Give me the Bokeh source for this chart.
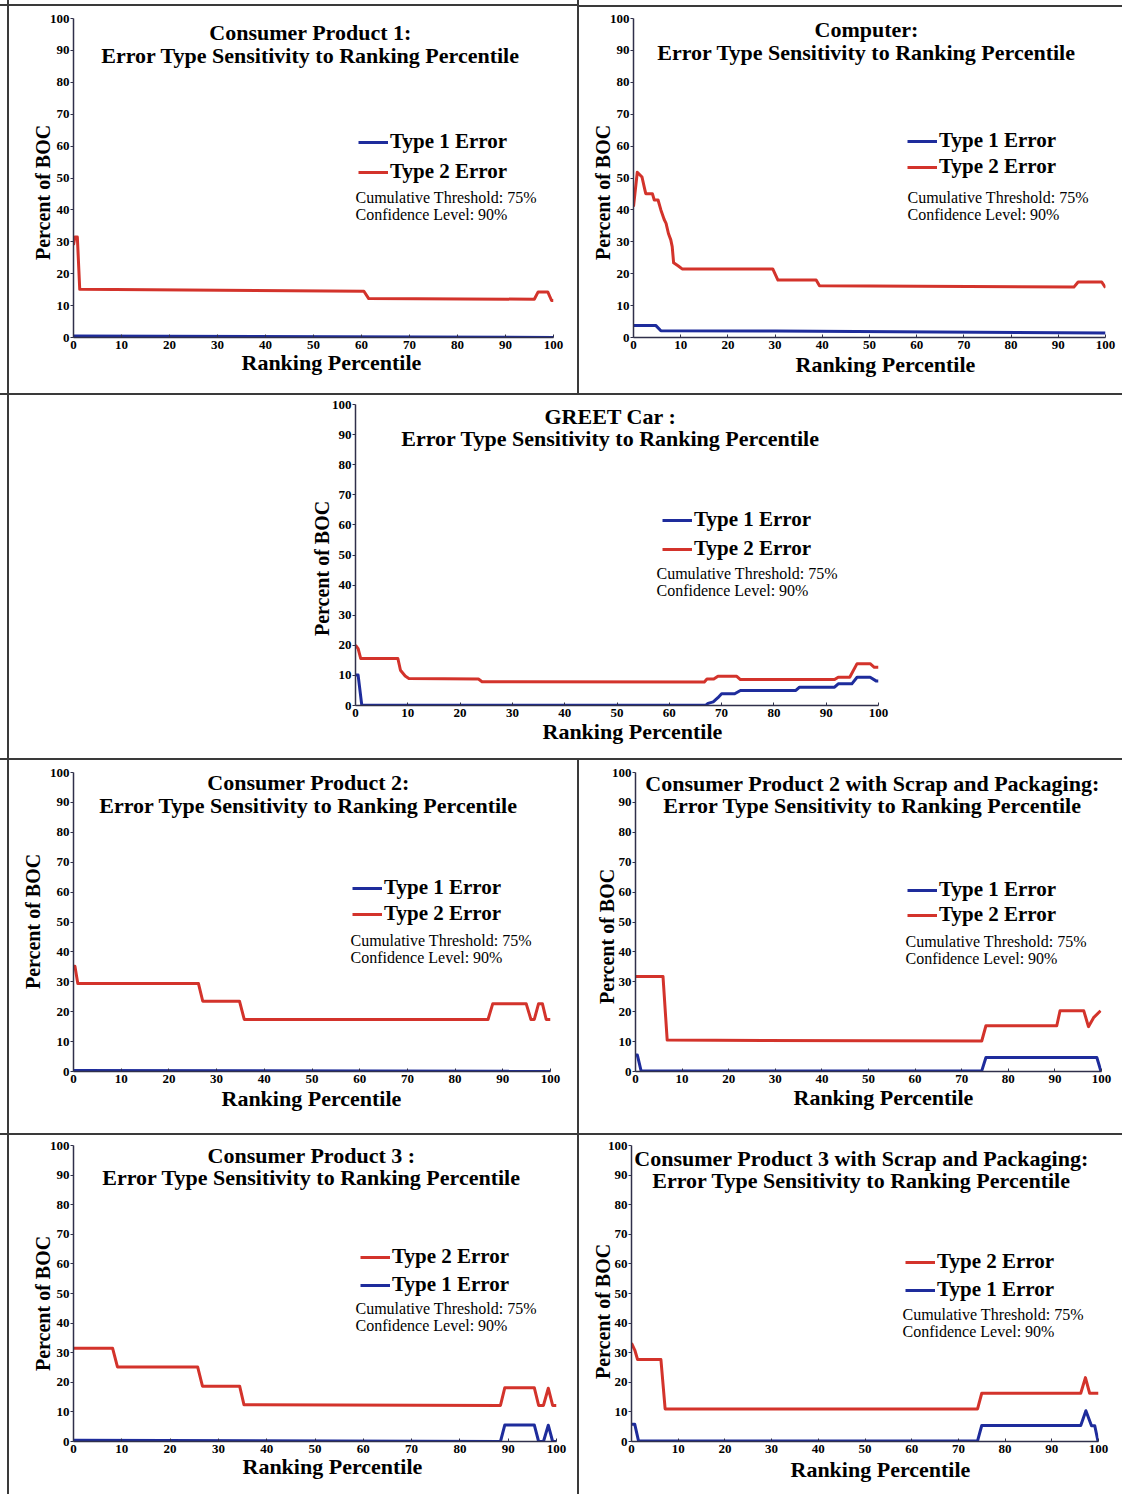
from bokeh.plotting import figure
from bokeh.models import Range1d, FixedTicker, Label, Legend, LegendItem, Title
from bokeh.layouts import column, row
from bokeh.embed import file_html
from bokeh.resources import INLINE

# ---------------- data ----------------
x_ticks = [0, 10, 20, 30, 40, 50, 60, 70, 80, 90, 100]
y_ticks = [0, 10, 20, 30, 40, 50, 60, 70, 80, 90, 100]

# Consumer Product 1
cp1_t1_x = [0, 100]
cp1_t1_y = [0.5, 0.0]
cp1_t2_x = [0, 0.3, 0.8, 1.3, 60.5, 61.5, 96.0, 96.8, 98.8, 99.6, 100]
cp1_t2_y = [29.0, 31.5, 31.5, 15.1, 14.5, 12.2, 12.0, 14.3, 14.3, 11.6, 11.6]

# Computer
comp_t1_x = [0, 4.7, 5.8, 30, 100]
comp_t1_y = [3.8, 3.8, 2.1, 2.0, 1.4]
comp_t2_x = [0, 0.8, 1.8, 2.3, 2.6, 4.0, 4.4, 5.2, 5.8, 6.5, 6.9, 7.4, 7.9, 8.2, 8.5,
             9.5, 10.3, 29.5, 30.6, 38.7, 39.4, 93.3, 94.2, 99.2, 100]
comp_t2_y = [41.0, 51.8, 50.3, 47.0, 45.1, 45.1, 43.1, 43.1, 40.0, 37.0, 35.8, 32.6, 30.6, 28.5, 23.4,
             22.4, 21.5, 21.5, 18.0, 18.0, 16.2, 15.8, 17.4, 17.4, 15.6]

# GREET Car
greet_t1_x = [0, 0.5, 1.2, 67.0, 67.4, 68.4, 69.3, 70.0, 72.5, 73.6, 84.2, 84.9, 91.6, 92.3,
              94.9, 95.9, 98.4, 99.6, 100]
greet_t1_y = [10.1, 10.1, 0.1, 0.1, 0.7, 1.2, 2.6, 3.9, 3.9, 5.0, 5.0, 6.1, 6.1, 7.2,
              7.2, 9.4, 9.4, 8.1, 8.1]
greet_t2_x = [0, 0.5, 1.0, 8.1, 8.6, 9.5, 10.2, 23.5, 24.2, 66.7, 67.2, 68.5, 69.3, 72.9,
              73.6, 91.6, 92.3, 94.5, 95.9, 98.4, 99.2, 100]
greet_t2_y = [20.0, 18.9, 15.6, 15.6, 11.7, 9.8, 9.0, 8.8, 7.9, 7.8, 8.8, 8.8, 9.7, 9.7,
              8.6, 8.6, 9.4, 9.4, 13.9, 13.9, 12.7, 12.7]

# Consumer Product 2
cp2_t1_x = [0, 100]
cp2_t1_y = [0.3, 0.1]
cp2_t2_x = [0, 0.3, 0.9, 26.2, 27.1, 34.8, 35.8, 86.9, 87.9, 94.9, 95.9, 96.6, 97.5, 98.3, 99.1, 100]
cp2_t2_y = [35.2, 35.2, 29.4, 29.4, 23.5, 23.5, 17.4, 17.4, 22.7, 22.7, 17.4, 17.4, 22.7, 22.7, 17.4, 17.4]

# Consumer Product 2 with Scrap and Packaging
cp2s_t1_x = [0, 0.4, 1.2, 74.3, 75.2, 99.0, 99.9]
cp2s_t1_y = [5.5, 5.5, 0.2, 0.2, 4.7, 4.7, 0.0]
cp2s_t2_x = [0, 5.9, 6.8, 74.3, 75.2, 90.4, 91.1, 96.2, 97.2, 98.3, 99.8]
cp2s_t2_y = [31.8, 31.8, 10.5, 10.2, 15.3, 15.3, 20.3, 20.3, 15.0, 18.0, 20.3]

# Consumer Product 3
cp3_t1_x = [0, 88.4, 89.3, 95.4, 96.3, 97.3, 98.3, 99.2, 100]
cp3_t1_y = [0.4, 0.0, 5.6, 5.6, 0.0, 0.0, 5.5, 0.0, 0.0]
cp3_t2_x = [0, 8.1, 9.1, 25.7, 26.7, 34.4, 35.3, 88.4, 89.3, 95.4, 96.3, 97.3, 98.3, 99.2, 100]
cp3_t2_y = [31.5, 31.5, 25.2, 25.2, 18.7, 18.7, 12.4, 12.2, 18.2, 18.2, 12.2, 12.2, 18.0, 12.2, 12.2]

# Consumer Product 3 with Scrap and Packaging
cp3s_t1_x = [0, 0.7, 1.5, 74.1, 75.0, 96.2, 97.3, 98.5, 99.2, 99.9]
cp3s_t1_y = [5.8, 5.8, 0.2, 0.2, 5.4, 5.4, 10.4, 5.3, 5.3, 0.0]
cp3s_t2_x = [0, 0.7, 1.3, 6.3, 7.2, 74.1, 75.0, 96.2, 97.2, 98.1, 100]
cp3s_t2_y = [33.2, 30.9, 27.7, 27.7, 11.0, 11.0, 16.3, 16.3, 21.6, 16.3, 16.3]

titles = ["Consumer Product 1:", "Computer:", "GREET Car :", "Consumer Product 2:",
          "Consumer Product 2 with Scrap and Packaging:", "Consumer Product 3 :",
          "Consumer Product 3 with Scrap and Packaging:"]
subtitle = "Error Type Sensitivity to Ranking Percentile"
label_t1 = "Type 1 Error"
label_t2 = "Type 2 Error"
note1 = "Cumulative Threshold: 75%"
note2 = "Confidence Level: 90%"
xlabel = "Ranking Percentile"
ylabel = "Percent of BOC"

# ---------------- styling / layout ----------------
SERIF = "Liberation Serif"
RED = "#d3332b"
BLUE = "#1e2c9c"
AXIS = "#30304a"
BORDER = "#3a3a3a"

layouts = [
    dict(box=(0, 0, 577, 393), l=73, r=24, t=18, b=56, tt=(310, 32, 55), lg=(358, 143, 172),
         nt=(355, 197, 214), yl=(43, 192), xl=(331, 360), t2first=False, vline=7, hline=4),
    dict(box=(577, 0, 545, 393), l=56, r=17, t=18, b=56, tt=(866, 29, 52), lg=(907, 142, 167),
         nt=(907, 197, 214), yl=(603, 192), xl=(885, 364), t2first=False, vline=0, hline=5),
    dict(box=(0, 393, 1122, 365), l=355, r=244, t=11, b=53, tt=(610, 416, 438), lg=(662, 521, 549),
         nt=(656, 573, 590), yl=(322, 568), xl=(632, 730), t2first=False, vline=7, hline=0),
    dict(box=(0, 758, 577, 375), l=73, r=27, t=14, b=62, tt=(308, 782, 805), lg=(352, 889, 914),
         nt=(350, 940, 957), yl=(33, 921), xl=(311, 1098), t2first=False, vline=7, hline=0),
    dict(box=(577, 758, 545, 375), l=58, r=21, t=14, b=62, tt=(872, 783, 805), lg=(907, 891, 915),
         nt=(905, 941, 958), yl=(607, 936), xl=(883, 1096), t2first=False, vline=0, hline=0),
    dict(box=(0, 1133, 577, 361), l=73, r=21, t=12, b=53, tt=(311, 1155, 1177), lg=(360, 1258, 1285),
         nt=(355, 1308, 1325), yl=(43, 1303), xl=(332, 1462), t2first=True, vline=7, hline=0),
    dict(box=(577, 1133, 545, 361), l=54, r=24, t=12, b=53, tt=(861, 1158, 1180), lg=(905, 1263, 1290),
         nt=(902, 1314, 1331), yl=(603, 1311), xl=(880, 1470), t2first=True, vline=0, hline=0),
]

series = [
    (cp1_t1_x, cp1_t1_y, cp1_t2_x, cp1_t2_y),
    (comp_t1_x, comp_t1_y, comp_t2_x, comp_t2_y),
    (greet_t1_x, greet_t1_y, greet_t2_x, greet_t2_y),
    (cp2_t1_x, cp2_t1_y, cp2_t2_x, cp2_t2_y),
    (cp2s_t1_x, cp2s_t1_y, cp2s_t2_x, cp2s_t2_y),
    (cp3_t1_x, cp3_t1_y, cp3_t2_x, cp3_t2_y),
    (cp3s_t1_x, cp3s_t1_y, cp3s_t2_x, cp3s_t2_y),
]

ITEM_H = 24
XLAB_W = 180   # approx. rendered width of the x-axis title (22px bold serif)
YLAB_W = 135   # approx. rendered length of the y-axis title (20px bold serif)


def make_panel(i):
    L = layouts[i]
    t1x, t1y, t2x, t2y = series[i]
    x0, y0, w, h = L["box"]
    fx0 = x0 + L["l"]
    fy1 = y0 + h - L["b"]

    def sx(ax):
        return ax - fx0

    def sy(ay):
        return fy1 - ay

    a, b = L["vline"], L["hline"]
    bg = ("linear-gradient(to right, transparent %dpx, %s %dpx, %s %dpx, transparent %dpx), "
          "linear-gradient(to bottom, transparent %dpx, %s %dpx, %s %dpx, transparent %dpx), white"
          % (a, BORDER, a, BORDER, a + 2, a + 2, b, BORDER, b, BORDER, b + 2, b + 2))

    p = figure(width=w, height=h, x_range=Range1d(0, 100), y_range=Range1d(0, 100),
               output_backend="svg", toolbar_location=None,
               min_border_left=L["l"], min_border_right=L["r"],
               min_border_top=L["t"], min_border_bottom=L["b"],
               styles={"background": bg})
    p.border_fill_alpha = 0
    p.background_fill_alpha = 0
    p.outline_line_color = None
    p.xgrid.visible = False
    p.ygrid.visible = False

    p.xaxis.ticker = FixedTicker(ticks=x_ticks)
    p.yaxis.ticker = FixedTicker(ticks=y_ticks)
    for ax in (p.xaxis[0], p.yaxis[0]):
        ax.axis_line_color = AXIS
        ax.axis_line_width = 1.5
        ax.major_tick_line_color = AXIS
        ax.minor_tick_line_color = None
        ax.major_label_text_font = SERIF
        ax.major_label_text_font_style = "bold"
        ax.major_label_text_font_size = "13px"
        ax.major_label_text_color = "black"
    p.xaxis.major_tick_in = 3
    p.xaxis.major_tick_out = 0
    p.xaxis.major_label_standoff = 3
    p.yaxis.major_tick_in = 0
    p.yaxis.major_tick_out = 3
    p.yaxis.major_label_standoff = 1

    r1 = p.line(t1x, t1y, line_color=BLUE, line_width=3, line_join="round")
    r2 = p.line(t2x, t2y, line_color=RED, line_width=3, line_join="round")

    items = [LegendItem(label=label_t1, renderers=[r1]), LegendItem(label=label_t2, renderers=[r2])]
    if L["t2first"]:
        items = items[::-1]
    lgx, row1, row2 = L["lg"]
    spacing = max(0, (row2 - row1) - ITEM_H)
    legend_bottom = row1 - ITEM_H / 2 + 2 * ITEM_H + spacing
    legend = Legend(items=items, location=(sx(lgx), sy(legend_bottom)), padding=0, margin=0,
                    spacing=spacing, glyph_width=30, glyph_height=ITEM_H, label_height=ITEM_H,
                    label_standoff=2, label_text_font=SERIF, label_text_font_style="bold",
                    label_text_font_size="21px", label_text_color="black",
                    border_line_alpha=0, background_fill_alpha=0)
    p.add_layout(legend, "center")

    tx, ty1, ty2 = L["tt"]
    for txt, ty in ((titles[i], ty1), (subtitle, ty2)):
        p.add_layout(Label(x=sx(tx), y=sy(ty), x_units="screen", y_units="screen", text=txt,
                           text_font=SERIF, text_font_style="bold", text_font_size="22px",
                           text_align="center", text_baseline="middle", text_color="black"))

    nx, n1, n2 = L["nt"]
    for txt, ny in ((note1, n1), (note2, n2)):
        p.add_layout(Label(x=sx(nx), y=sy(ny), x_units="screen", y_units="screen", text=txt,
                           text_font=SERIF, text_font_size="16px",
                           text_align="left", text_baseline="middle", text_color="black"))

    # axis titles as side titles, aligned from the frame edge with an offset
    ylx, yly = L["yl"]
    p.add_layout(Title(text=ylabel, align="left", offset=fy1 - (yly + YLAB_W / 2),
                       standoff=2 * ((fx0 - 37) - ylx),
                       text_font=SERIF, text_font_style="bold", text_font_size="20px",
                       text_color="black"), "left")
    xlx, xly = L["xl"]
    p.add_layout(Title(text=xlabel, align="left", offset=xlx - XLAB_W / 2 - fx0,
                       standoff=max(-8, xly - fy1 - 30),
                       text_font=SERIF, text_font_style="bold", text_font_size="22px",
                       text_color="black"), "below")
    return p


panels = [make_panel(i) for i in range(7)]
layout = column(row(panels[0], panels[1]), panels[2], row(panels[3], panels[4]),
                row(panels[5], panels[6]))

open("out.html", "w").write(file_html(layout, INLINE))
